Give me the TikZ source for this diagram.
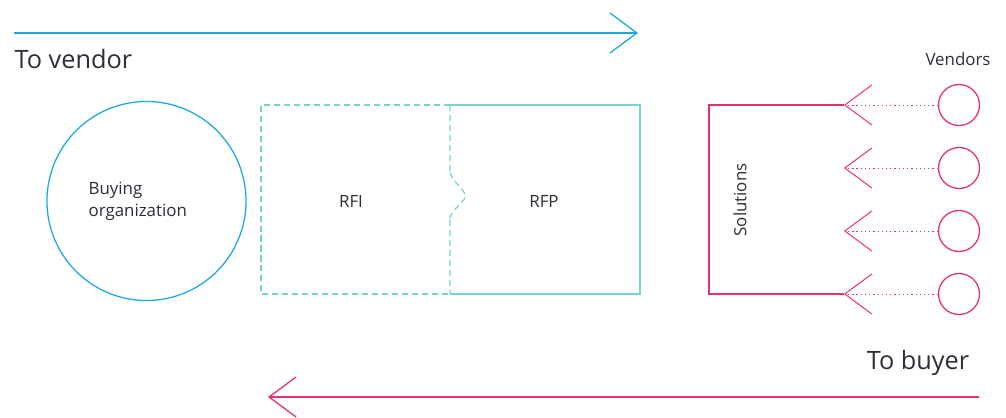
\documentclass[tikz,border=0pt]{standalone}
\usepackage{fontspec}
\setmainfont{Open Sans}
\usepackage{xcolor}
\usepackage{tikz}
\usetikzlibrary{calc}
\usetikzlibrary{arrows.meta}

\definecolor{skyblue}{HTML}{1BA9E1}
\definecolor{tealline}{HTML}{74D4CF}
\definecolor{rosepink}{HTML}{E8306E}
\definecolor{inkgray}{HTML}{2E2E38}

\begin{document}
\begin{tikzpicture}[x=0.025cm,y=0.025cm,
  line width=0.9pt,
  barb/.style={-{Straight Barb[length=0.675cm,width=1cm]}},
  label/.style={text=inkgray,font=\fontsize{12}{15.5}\selectfont},
  biglabel/.style={text=inkgray,font=\fontsize{18}{21}\selectfont},
  vendor/.style={draw=rosepink,circle,minimum size=1.025cm,inner sep=0pt}]

\useasboundingbox (0,0) rectangle (1006,417);

% Top arrow
\coordinate (topstart) at (14,384);
\coordinate (topend) at (638,384);
\draw[skyblue,barb] (topstart) -- (topend);
\node[biglabel,anchor=west,inner sep=0pt] (tovendor) at (14,358) {To vendor};

% Buying organization
\node[draw=skyblue,circle,minimum size=4.975cm,inner sep=0pt] (buyer) at (146.5,216) {};
\node[label,anchor=west,align=left,inner sep=0pt] (buyertext) at (88,216) {Buying\\organization};

% RFI and RFP
\def\notch{(450,312) -- (450,245) [rounded corners=3pt] -- (450,242) -- (467,221) -- (450,202) [rounded corners=0pt] -- (450,199) -- (450,123)}
\draw[tealline,dash pattern=on 4.3pt off 2.8pt] (450,312) -- (261,312) -- (261,123) -- (450,123);
\draw[tealline,dash pattern=on 4.3pt off 2.8pt] \notch;
\draw[tealline] (450,312) -- (640,312) -- (640,123) -- (450,123);
\node[label] (rfi) at (351,216) {RFI};
\node[label] (rfp) at (544,216) {RFP};

% Vendors
\node[label] (vendors) at (958,358) {Vendors};
\foreach \i/\y in {1/312,2/249,3/186,4/123} {
  \node[vendor] (v\i) at (959,\y) {};
  \coordinate (t\i) at (844,\y);
  \draw[rosepink,barb,line width=0.7pt,dash pattern=on 0.9pt off 2.1pt] (v\i) -- (t\i);
}

% Solutions bracket
\draw[rosepink] (t1) -- (709,312) -- (709,123) -- (t4);
\node[label,rotate=90] (solutions) at (740,217) {Solutions};

% Bottom arrow
\coordinate (botstart) at (979,20);
\coordinate (botend) at (268,20);
\draw[rosepink,barb] (botstart) -- (botend);
\node[biglabel] (tobuyer) at (918,54) {To buyer};

\end{tikzpicture}
\end{document}
